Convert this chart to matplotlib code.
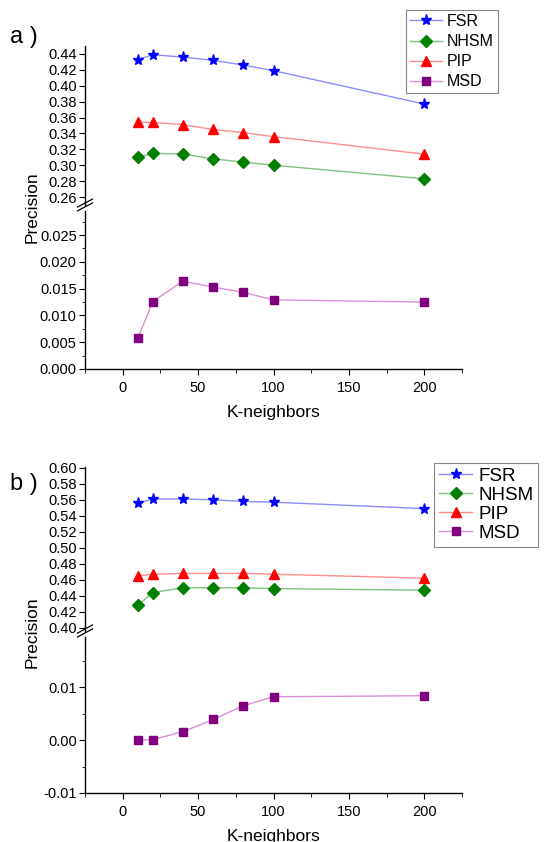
import numpy as np
import matplotlib
matplotlib.use("Agg")
import matplotlib.pyplot as plt
from matplotlib.ticker import MultipleLocator, FormatStrFormatter

plt.rcParams['font.family'] = ['Liberation Sans', 'DejaVu Sans']

k = [10, 20, 40, 60, 80, 100, 200]

# panel a
fsr_a = [0.433, 0.439, 0.436, 0.432, 0.426, 0.419, 0.377]
nhsm_a = [0.310, 0.315, 0.314, 0.308, 0.304, 0.300, 0.283]
pip_a = [0.354, 0.354, 0.351, 0.345, 0.341, 0.336, 0.314]
msd_a = [0.0057, 0.0126, 0.0164, 0.0153, 0.0143, 0.0129, 0.0125]

# panel b
fsr_b = [0.556, 0.561, 0.561, 0.560, 0.558, 0.557, 0.549]
nhsm_b = [0.428, 0.444, 0.450, 0.450, 0.450, 0.449, 0.447]
pip_b = [0.465, 0.467, 0.468, 0.468, 0.468, 0.467, 0.462]
msd_b = [0.0000, 0.0001, 0.0016, 0.0039, 0.0065, 0.0082, 0.0084]

names = ['FSR', 'NHSM', 'PIP', 'MSD']
mcol = ['#0000ff', '#008000', '#ff0000', '#800080']
lcol = ['#8c8cff', '#80c080', '#ff8c8c', '#d890d8']
marks = ['*', 'D', '^', 's']
msize = [8, 6, 7, 6]

W, H = 558, 842
fig = plt.figure(figsize=(W / 100, H / 100), dpi=100)


def px_axes(left, top, right, bottom):
    return fig.add_axes([left / W, 1 - bottom / H, (right - left) / W, (bottom - top) / H])


def style(ax, bottom_spine):
    for s in ['top', 'right']:
        ax.spines[s].set_visible(False)
    ax.spines['left'].set_linewidth(1.0)
    if not bottom_spine:
        ax.spines['bottom'].set_visible(False)
        ax.tick_params(axis='x', which='both', bottom=False, labelbottom=False)
    else:
        ax.spines['bottom'].set_linewidth(1.0)
        ax.xaxis.set_major_locator(MultipleLocator(50))
        ax.xaxis.set_minor_locator(MultipleLocator(25))
        ax.tick_params(axis='x', which='major', length=4, labelsize=10.5, pad=4.5)
        ax.tick_params(axis='x', which='minor', length=3)
    ax.tick_params(axis='y', which='major', length=4, labelsize=10.5, pad=2)
    ax.tick_params(axis='y', which='minor', length=2.5)
    ax.set_xlim(-25, 225)
    ax.patch.set_alpha(0)


def break_marks(ax):
    d = 0.02
    for off in (-0.012, 0.012):
        ax.plot([-d, d], [off - 0.025, off + 0.025], transform=ax.transAxes,
                color='black', lw=0.9, clip_on=False)


def panel(tag, tag_y, upper, lower, top_px, ylim_up, ylim_lo, lo_step, lo_minor,
          lo_fmt, leg_pos, leg_fs, leg_sp, leg_hl, label_y):
    t_up, b_up, t_lo, b_lo = top_px
    ax_u = px_axes(85, t_up, 462, b_up)
    ax_l = px_axes(85, t_lo, 462, b_lo)
    style(ax_u, False)
    style(ax_l, True)
    handles = []
    for i in range(3):
        h, = ax_u.plot(k, upper[i], color=lcol[i], lw=1.0, marker=marks[i], ms=msize[i],
                       mfc=mcol[i], mec=mcol[i], label=names[i])
        handles.append(h)
    h, = ax_l.plot(k, lower, color=lcol[3], lw=1.0, marker=marks[3], ms=msize[3],
                   mfc=mcol[3], mec=mcol[3], label=names[3])
    handles.append(h)
    ax_u.set_ylim(*ylim_up)
    ax_l.set_ylim(*ylim_lo)
    ticks_u = np.arange(0.20, 0.62, 0.02)
    ax_u.set_yticks([t for t in ticks_u if ylim_up[0] + 0.001 < t < ylim_up[1] + 0.001])
    ax_u.yaxis.set_major_formatter(FormatStrFormatter('%.2f'))
    ax_l.yaxis.set_major_locator(MultipleLocator(lo_step))
    ax_l.yaxis.set_minor_locator(MultipleLocator(lo_minor))
    ax_l.yaxis.set_major_formatter(FormatStrFormatter(lo_fmt))
    break_marks(ax_u)
    ax_l.set_xlabel('K-neighbors', fontsize=12.5, labelpad=7)
    fig.text(32 / W, 1 - label_y / H, 'Precision', rotation=90, fontsize=12.5,
             ha='center', va='center')
    fig.text(10 / W, 1 - tag_y / H, tag, fontsize=17, ha='left', va='center')
    leg = fig.legend(handles=handles, loc='upper left', bbox_to_anchor=leg_pos,
                     bbox_transform=fig.transFigure, fontsize=leg_fs, handlelength=leg_hl,
                     frameon=True, fancybox=False, edgecolor='#666666',
                     borderpad=0.25, labelspacing=leg_sp, handletextpad=0.3,
                     borderaxespad=0)
    leg.get_frame().set_linewidth(0.8)


panel('a )', 37, [fsr_a, nhsm_a, pip_a], msd_a, (46, 205, 211, 369),
      (0.25, 0.45), (0.0, 0.0295), 0.005, 0.0025, '%.3f',
      (406 / W, 1 - 10 / H), 11.5, 0.32, 2.0, 207)

panel('b )', 484, [fsr_b, nhsm_b, pip_b], msd_b, (467, 631, 637, 793),
      (0.396, 0.601), (-0.01, 0.0195), 0.01, 0.005, '%.2f',
      (434 / W, 1 - 463 / H), 13.5, 0.1, 1.8, 632)

fig.savefig('out.png', dpi=100)
